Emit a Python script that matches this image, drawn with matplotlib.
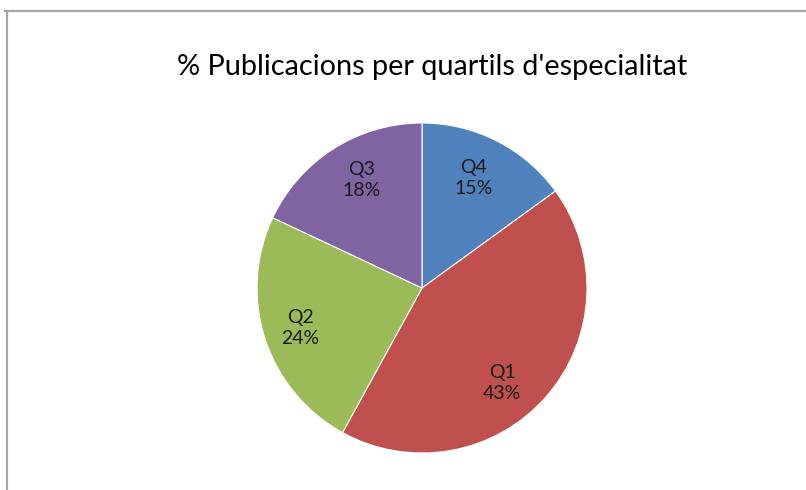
import matplotlib
matplotlib.use("Agg")
import matplotlib.pyplot as plt
from matplotlib.lines import Line2D

categories = ["Q4", "Q1", "Q2", "Q3"]
values = [15, 43, 24, 18]
colors = ["#4F81BD", "#C0504D", "#9BBB59", "#8064A2"]
title = "% Publicacions per quartils d'especialitat"

# label anchor positions (fractions of pie radius), Excel "best fit" layout
label_pos = [(0.31, 0.667), (0.485, -0.576), (-0.739, -0.242), (-0.364, 0.655)]

W, H = 806, 490
fig = plt.figure(figsize=(W / 100, H / 100), dpi=100)
fig.patch.set_facecolor("white")

# frame lines (top and left only visible)
fig.add_artist(Line2D([5 / W, 1.0], [1 - 11 / H, 1 - 11 / H], transform=fig.transFigure,
                      color="#a6a6a6", lw=1.6))
fig.add_artist(Line2D([7 / W, 7 / W], [1 - 11 / H, 0.0], transform=fig.transFigure,
                      color="#a6a6a6", lw=1.6))

cx, cy, r = 422, 288, 165
ax = fig.add_axes([(cx - r) / W, 1 - (cy + r) / H, 2 * r / W, 2 * r / H])

labels_iter = iter(categories)
def fmt(p):
    return f"{next(labels_iter)}\n{p:.0f}%"

wedges, texts, autotexts = ax.pie(
    values, colors=colors, startangle=90, counterclock=False,
    autopct=fmt, pctdistance=0.73,
    wedgeprops=dict(edgecolor="white", linewidth=0.8),
    textprops=dict(family="Lato", fontsize=14, color="#1a1a1a"),
)
for t, pos in zip(autotexts, label_pos):
    t.set_linespacing(1.3)
    t.set_position(pos)
ax.set_xlim(-1, 1)
ax.set_ylim(-1, 1)
ax.set_aspect("equal")
ax.axis("off")

fig.text(432 / W, 1 - 67 / H, title, ha="center", va="center",
         family="Lato", fontsize=20.8, color="#000000")

fig.savefig("out.png", dpi=100)
